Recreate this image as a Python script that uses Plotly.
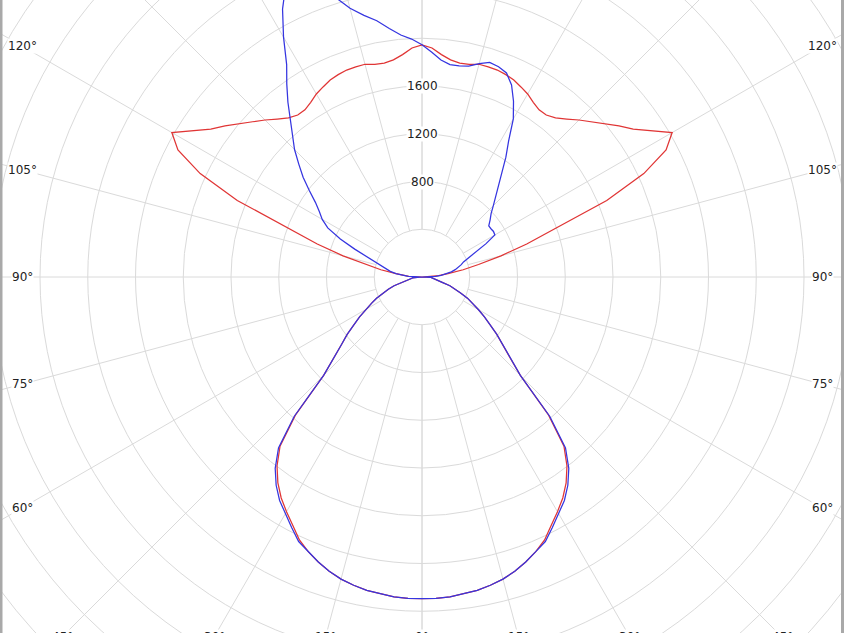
import numpy as np
import plotly.graph_objects as go

# photometric angles (0 = straight down, 180 = straight up)
GAMMA_DOWN = [0, 2.5, 5, 7.5, 10, 12.5, 15, 17.5, 20, 22.5, 25, 27.5, 30, 32.5, 35, 37.5,
              40, 42.5, 45, 47.5, 50, 52.5, 55, 57.5, 60, 62.5, 65, 67.5, 70, 72.5, 75,
              77.5, 80, 82.5, 85, 87.5, 90]
GAMMA_UP = [90, 92.5, 95, 97.5, 100, 102.5, 105, 107.5, 110, 112.5, 115, 117.5, 120, 122.5,
            125, 127.5, 130, 132.5, 135, 137.5, 140, 142.5, 145, 147.5, 150, 152.5, 155,
            157.5, 160, 162.5, 165, 167.5, 170, 172.5, 175, 177.5, 180]

# luminous intensity (cd), red plane (same both sides)
RED_DOWN = [2695, 2695, 2690, 2675, 2665, 2645, 2620, 2585, 2540, 2490, 2430, 2345, 2270,
            2195, 2105, 1995, 1850, 1570, 1165, 1000, 880, 790, 695, 620, 545, 475, 420,
            350, 300, 245, 175, 125, 100, 85, 80, 75, 0]
RED_UP = [0, 110, 140, 220, 350, 485, 685, 920, 1175, 1675, 2050, 2305, 2420, 2280, 2160,
          2080, 2000, 1925, 1860, 1795, 1740, 1710, 1710, 1735, 1770, 1795, 1820, 1835,
          1845, 1845, 1845, 1825, 1820, 1835, 1870, 1920, 1945]

# blue plane
BLUE_DOWN = [2695, 2695, 2690, 2675, 2665, 2645, 2620, 2585, 2540, 2490, 2445, 2365, 2290,
             2220, 2130, 2020, 1870, 1585, 1165, 1000, 880, 790, 695, 620, 545, 475, 420,
             350, 300, 245, 175, 125, 100, 85, 80, 75, 0]
BLUE_UP_LEFT = [0, 115, 170, 220, 270, 310, 350, 410, 480, 610, 755, 890, 965, 1020, 1090,
                1190, 1300, 1400, 1510, 1610, 1715, 1845, 1975, 2110, 2320, 2530, 2700,
                2720, 2640, 2470, 2330, 2245, 2180, 2100, 2035, 1995, 1945]
BLUE_UP_RIGHT = [0, 115, 160, 210, 250, 285, 320, 345, 370, 420, 485, 605, 705, 710, 705,
                 705, 745, 785, 845, 915, 995, 1095, 1225, 1350, 1530, 1660, 1775, 1850,
                 1875, 1885, 1850, 1810, 1795, 1795, 1825, 1885, 1945]

RINGS = [400, 800, 1200, 1600, 2000, 2400, 2800, 3200, 3600, 4000, 4400, 4800]
RING_LABELS = [800, 1200, 1600]
SPOKES = [0, 15, 30, 45, 60, 75, 90, 105, 120, 135, 150, 165, 180]
SIDE_LABELS = [60, 75, 90, 105, 120]
BOTTOM_LABELS = [0, 15, 30, 45]

W, H = 844, 633
CX, CY = 422, 277             # pixel position of the centre
PX_PER_CD = 47.75 / 400

X0, X1 = -CX / PX_PER_CD, (W - CX) / PX_PER_CD
Y0, Y1 = -(H - CY) / PX_PER_CD, CY / PX_PER_CD


def curve_xy(right_down, right_up, left_down, left_up):
    """polar (gamma, I) -> x/y, right half 0..180 then left half 180..0"""
    g = np.radians(np.array(GAMMA_DOWN + GAMMA_UP[1:]))
    r_right = np.array(right_down + right_up[1:], dtype=float)
    r_left = np.array(left_down + left_up[1:], dtype=float)
    x = np.concatenate([r_right * np.sin(g), (-r_left * np.sin(g))[::-1]])
    y = np.concatenate([-r_right * np.cos(g), (-r_left * np.cos(g))[::-1]])
    return x, y


def to_paper(xc, yc):
    return (xc - X0) / (X1 - X0), (yc - Y0) / (Y1 - Y0)


fig = go.Figure()

rx, ry = curve_xy(RED_DOWN, RED_UP, RED_DOWN, RED_UP)
fig.add_trace(go.Scatter(x=rx, y=ry, mode='lines', line=dict(color='#e03535', width=1.25),
                         name='C0-C180', hoverinfo='skip'))
bx, by = curve_xy(BLUE_DOWN, BLUE_UP_RIGHT, BLUE_DOWN, BLUE_UP_LEFT)
fig.add_trace(go.Scatter(x=bx, y=by, mode='lines', line=dict(color='#3535e0', width=1.25),
                         name='C90-C270', hoverinfo='skip'))

grid = dict(color='#dadada', width=1)
shapes = []
for r in RINGS:
    shapes.append(dict(type='circle', xref='x', yref='y', x0=-r, x1=r, y0=-r, y1=r,
                       line=grid, layer='below'))
r_in, r_out = RINGS[0], 7000
for a in SPOKES:
    g = np.radians(a)
    for s in (1, -1):
        shapes.append(dict(type='line', xref='x', yref='y',
                           x0=s * r_in * np.sin(g), y0=-r_in * np.cos(g),
                           x1=s * r_out * np.sin(g), y1=-r_out * np.cos(g),
                           line=grid, layer='below'))
# grey frame edges
shapes.append(dict(type='rect', xref='paper', yref='paper', x0=0, x1=2.5 / W, y0=0, y1=1,
                   fillcolor='#a9a9a9', line=dict(width=0)))
shapes.append(dict(type='rect', xref='paper', yref='paper', x0=841 / W, x1=1, y0=0, y1=1,
                   fillcolor='#a9a9a9', line=dict(width=0)))

font = dict(family='DejaVu Sans', size=12, color='#222222')
label = dict(xref='paper', yref='paper', showarrow=False, font=font, bgcolor='white',
             borderpad=0, xanchor='center', yanchor='middle')
annotations = []
for r in RING_LABELS:
    px, py = to_paper(0, r)
    annotations.append(dict(x=px, y=py, text=str(r), **label))
d = 400 / PX_PER_CD
for a in SIDE_LABELS:
    g = np.radians(a)
    yc = -d * np.cos(g) / np.sin(g)
    for s in (1, -1):
        px, py = to_paper(s * d, yc)
        annotations.append(dict(x=px, y=py, text=f'{a}°', **label))
yb = -(637 - CY) / PX_PER_CD
for a in BOTTOM_LABELS:
    sides = (1,) if a == 0 else (1, -1)
    for s in sides:
        px, py = to_paper(s * abs(yb) * np.tan(np.radians(a)), yb)
        annotations.append(dict(x=px, y=py, text=f'{a}°', **label))

fig.update_layout(
    width=W, height=H,
    margin=dict(l=0, r=0, t=0, b=0),
    paper_bgcolor='white', plot_bgcolor='white',
    showlegend=False,
    xaxis=dict(range=[X0, X1], visible=False, fixedrange=True),
    yaxis=dict(range=[Y0, Y1], visible=False, fixedrange=True),
    shapes=shapes,
    annotations=annotations,
)

fig.write_html("out.html", config={'displayModeBar': False},
               post_script="document.body.style.margin='0';")
